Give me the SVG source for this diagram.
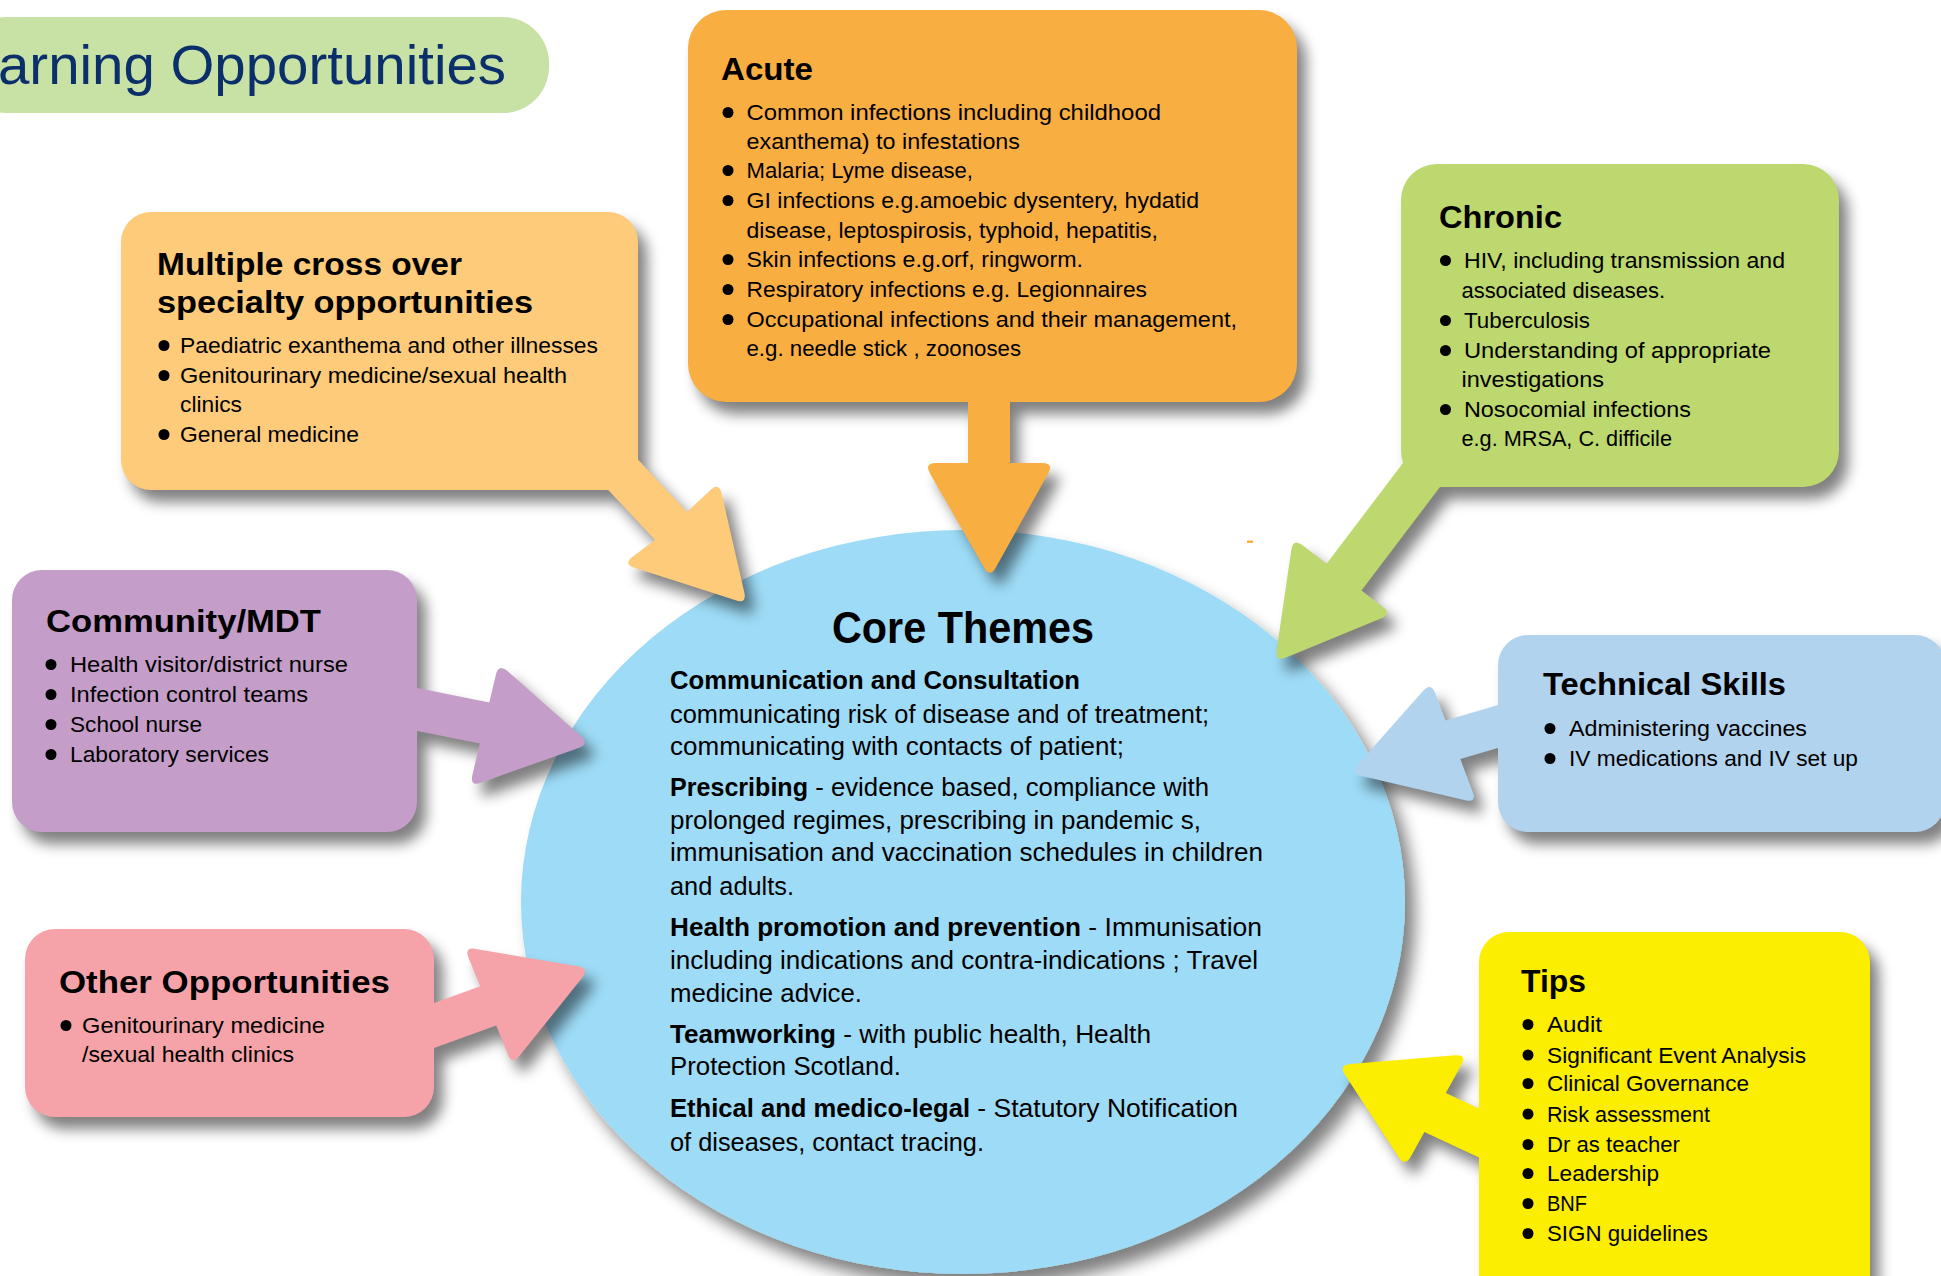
<svg xmlns="http://www.w3.org/2000/svg" width="1941" height="1276" viewBox="0 0 1941 1276">
  <defs>
    <style>
      text { font-family: "Liberation Sans", Arial, Helvetica, sans-serif; fill: #000; }
      .banner { font-size: 56px; fill: #0b2f6b; }
      .h { font-size: 32px; font-weight: bold; }
      .li { font-size: 22.5px; }
      .ch { font-size: 44px; font-weight: bold; }
      .cb { font-size: 25px; }
      .bd { font-weight: bold; }
      .dot { fill: #000; }
      .c-banner { fill: #c8e1a5; }
      .c-multi { fill: #fdcb7a; }
      .c-acute { fill: #f9ae42; }
      .c-chronic { fill: #bdd86e; }
      .c-tech { fill: #b1d3ee; }
      .c-tips { fill: #fbee00; }
      .c-comm { fill: #c49ec8; }
      .c-other { fill: #f5a3a9; }
      .c-core { fill: #9ddbf6; }
      .shade { fill: #000; }
    </style>

    <!-- soft drop shadow, shadow only -->
    <filter id="drop" filterUnits="userSpaceOnUse" x="0" y="0" width="1941" height="1276">
      <feGaussianBlur in="SourceAlpha" stdDeviation="7"/>
      <feOffset dx="9" dy="12"/>
      <feComponentTransfer><feFuncA type="linear" slope="0.5"/></feComponentTransfer>
    </filter>
    <!-- drop shadow merged under the shape itself -->
    <filter id="drop-under" filterUnits="userSpaceOnUse" x="0" y="0" width="1941" height="1276">
      <feGaussianBlur in="SourceAlpha" stdDeviation="8"/>
      <feOffset dx="10" dy="13"/>
      <feComponentTransfer result="sh"><feFuncA type="linear" slope="0.5"/></feComponentTransfer>
      <feMerge><feMergeNode in="sh"/><feMergeNode in="SourceGraphic"/></feMerge>
    </filter>

    <!-- callout boxes -->
    <rect id="box-multi" x="121" y="212" width="517" height="278" rx="30"/>
    <rect id="box-acute" x="688" y="10" width="609" height="392" rx="38"/>
    <rect id="box-chronic" x="1401" y="164" width="438" height="323" rx="36"/>
    <rect id="box-tech" x="1498" y="635" width="447" height="197" rx="30"/>
    <rect id="box-tips" x="1479" y="932" width="391" height="390" rx="30"/>
    <rect id="box-comm" x="12" y="570" width="405" height="262" rx="30"/>
    <rect id="box-other" x="25" y="929" width="409" height="188" rx="30"/>

    <!-- block arrows pointing at the core -->
    <path id="arr-multi" d="M616,436 L687,512 L710.3,490.2 Q719,482 721.7,493.7 L744.3,592.3 Q747,604 735.6,600.3 L634.4,567.7 Q623,564 632.6,556.8 L655,540 L554,432 Z"/>
    <path id="arr-acute" d="M968,380 L968,463 L936,463 Q924,463 930,473.4 L984,567.6 Q990,578 995.8,567.5 L1048.2,473.5 Q1054,463 1042,463 L1010,463 L1010,380 Z"/>
    <path id="arr-chronic" d="M1440.5,413.5 L1326.6,563.8 L1302.5,545.3 Q1293,538 1291.3,549.9 L1276.7,650.1 Q1275,662 1286.1,657.5 L1380.9,618.5 Q1392,614 1382.5,606.7 L1361.5,590.6 L1477.5,437.5 Z"/>
    <path id="arr-tech" d="M1530,695.6 L1445.6,720.5 L1435.2,693.2 Q1431,682 1423,691 L1358,764.4 Q1350,773.4 1361.7,776.1 L1465.3,800.3 Q1477,803 1472.7,791.8 L1460.3,759.1 L1530,738.6 Z"/>
    <path id="arr-tips" d="M1509,1122.5 L1445.9,1093 L1461.4,1064.8 Q1467.2,1054.3 1455.2,1055.3 L1350.5,1063.9 Q1338.5,1064.9 1345.1,1075 L1398.5,1156.9 Q1405.1,1167 1410.9,1156.5 L1424.4,1132 L1509,1171.5 Z"/>
    <path id="arr-comm" d="M390,682.6 L489.3,702.4 L495.8,674.9 Q498.5,663.2 507.5,671.1 L580.9,736 Q589.9,743.9 578.6,747.9 L481,782.7 Q469.7,786.7 472.4,775 L479.8,743.5 L390,725.6 Z"/>
    <path id="arr-other" d="M405,1013.5 L480.2,986.3 L468.6,958 Q464.1,946.9 475.9,948.9 L577.9,966.3 Q589.7,968.3 582.2,977.7 L519.8,1055.6 Q512.3,1065 507.8,1053.9 L496.2,1025.5 L405,1058.5 Z"/>
  </defs>

  <rect x="0" y="0" width="1941" height="1276" fill="#fff"/>

  <!-- page heading -->
  <g id="heading">
    <rect class="c-banner" x="-40" y="17" width="589" height="96" rx="46"/>
    <text class="banner" x="-2" y="84" textLength="508" lengthAdjust="spacingAndGlyphs">arning Opportunities</text>
  </g>

  <!-- central theme -->
  <g id="node-core">
    <ellipse class="c-core" cx="963" cy="902" rx="442" ry="372" filter="url(#drop-under)"/>
    <text class="ch" x="832" y="643" textLength="262" lengthAdjust="spacingAndGlyphs">Core Themes</text>
    <text class="cb" y="689"><tspan class="bd" x="670" textLength="410" lengthAdjust="spacingAndGlyphs">Communication and Consultation</tspan></text>
    <text class="cb" x="670" y="722.5" textLength="539" lengthAdjust="spacingAndGlyphs">communicating risk of disease and of treatment;</text>
    <text class="cb" x="670" y="755" textLength="454" lengthAdjust="spacingAndGlyphs">communicating with contacts of patient;</text>
    <text class="cb" y="796"><tspan class="bd" x="670" textLength="138" lengthAdjust="spacingAndGlyphs">Prescribing</tspan><tspan x="808" textLength="401" lengthAdjust="spacingAndGlyphs"> - evidence based, compliance with</tspan></text>
    <text class="cb" x="670" y="829" textLength="531" lengthAdjust="spacingAndGlyphs">prolonged regimes, prescribing in pandemic s,</text>
    <text class="cb" x="670" y="861" textLength="593" lengthAdjust="spacingAndGlyphs">immunisation and vaccination schedules in children</text>
    <text class="cb" x="670" y="895" textLength="124" lengthAdjust="spacingAndGlyphs">and adults.</text>
    <text class="cb" y="936"><tspan class="bd" x="670" textLength="411" lengthAdjust="spacingAndGlyphs">Health promotion and prevention</tspan><tspan x="1081" textLength="181" lengthAdjust="spacingAndGlyphs"> - Immunisation</tspan></text>
    <text class="cb" x="670" y="969" textLength="588" lengthAdjust="spacingAndGlyphs">including indications and contra-indications ; Travel</text>
    <text class="cb" x="670" y="1002" textLength="192" lengthAdjust="spacingAndGlyphs">medicine advice.</text>
    <text class="cb" y="1043"><tspan class="bd" x="670" textLength="166" lengthAdjust="spacingAndGlyphs">Teamworking</tspan><tspan x="836" textLength="315" lengthAdjust="spacingAndGlyphs"> - with public health, Health</tspan></text>
    <text class="cb" x="670" y="1075" textLength="231" lengthAdjust="spacingAndGlyphs">Protection Scotland.</text>
    <text class="cb" y="1117"><tspan class="bd" x="670" textLength="300" lengthAdjust="spacingAndGlyphs">Ethical and medico-legal</tspan><tspan x="970" textLength="268" lengthAdjust="spacingAndGlyphs"> - Statutory Notification</tspan></text>
    <text class="cb" x="670" y="1150.5" textLength="314" lengthAdjust="spacingAndGlyphs">of diseases, contact tracing.</text>
  </g>

  <!-- shadows of the callouts and their arrows -->
  <g id="shadows" class="shade" filter="url(#drop)">
    <use href="#box-multi"/><use href="#arr-multi"/>
    <use href="#box-acute"/><use href="#arr-acute"/>
    <use href="#box-chronic"/><use href="#arr-chronic"/>
    <use href="#box-tech"/><use href="#arr-tech"/>
    <use href="#box-tips"/><use href="#arr-tips"/>
    <use href="#box-comm"/><use href="#arr-comm"/>
    <use href="#box-other"/><use href="#arr-other"/>
  </g>

  <!-- connectors -->
  <g id="connectors">
    <use href="#arr-multi" class="c-multi"/>
    <use href="#arr-acute" class="c-acute"/>
    <use href="#arr-chronic" class="c-chronic"/>
    <use href="#arr-tech" class="c-tech"/>
    <use href="#arr-tips" class="c-tips"/>
    <use href="#arr-comm" class="c-comm"/>
    <use href="#arr-other" class="c-other"/>
  </g>

  <rect x="1247" y="540.5" width="6" height="2.5" fill="#f9ae42"/>

  <g id="node-multi">
    <use href="#box-multi" class="c-multi"/>
    <text class="h" x="157" y="275" textLength="305" lengthAdjust="spacingAndGlyphs">Multiple cross over</text>
    <text class="h" x="157" y="313" textLength="376" lengthAdjust="spacingAndGlyphs">specialty opportunities</text>
    <circle class="dot" cx="164" cy="345.5" r="5.5"/>
    <circle class="dot" cx="164" cy="375.5" r="5.5"/>
    <circle class="dot" cx="164" cy="434.5" r="5.5"/>
    <text class="li" x="180" y="353" textLength="418" lengthAdjust="spacingAndGlyphs">Paediatric exanthema and other illnesses</text>
    <text class="li" x="180" y="383" textLength="387" lengthAdjust="spacingAndGlyphs">Genitourinary medicine/sexual health</text>
    <text class="li" x="180" y="412" textLength="62" lengthAdjust="spacingAndGlyphs">clinics</text>
    <text class="li" x="180" y="442" textLength="179" lengthAdjust="spacingAndGlyphs">General medicine</text>
  </g>

  <g id="node-acute">
    <use href="#box-acute" class="c-acute"/>
    <text class="h" x="721" y="80" textLength="92" lengthAdjust="spacingAndGlyphs">Acute</text>
    <circle class="dot" cx="728" cy="112.5" r="5.5"/>
    <circle class="dot" cx="728" cy="170.5" r="5.5"/>
    <circle class="dot" cx="728" cy="200.5" r="5.5"/>
    <circle class="dot" cx="728" cy="259.5" r="5.5"/>
    <circle class="dot" cx="728" cy="289.5" r="5.5"/>
    <circle class="dot" cx="728" cy="319.5" r="5.5"/>
    <text class="li" x="746.5" y="120" textLength="414.5" lengthAdjust="spacingAndGlyphs">Common infections including childhood</text>
    <text class="li" x="746.5" y="149" textLength="273.5" lengthAdjust="spacingAndGlyphs">exanthema) to infestations</text>
    <text class="li" x="746.5" y="178" textLength="226.5" lengthAdjust="spacingAndGlyphs">Malaria; Lyme disease,</text>
    <text class="li" x="746.5" y="208" textLength="452.5" lengthAdjust="spacingAndGlyphs">GI infections e.g.amoebic dysentery, hydatid</text>
    <text class="li" x="746.5" y="238" textLength="411.5" lengthAdjust="spacingAndGlyphs">disease, leptospirosis, typhoid, hepatitis,</text>
    <text class="li" x="746.5" y="267" textLength="336.5" lengthAdjust="spacingAndGlyphs">Skin infections e.g.orf, ringworm.</text>
    <text class="li" x="746.5" y="297" textLength="400.5" lengthAdjust="spacingAndGlyphs">Respiratory infections e.g. Legionnaires</text>
    <text class="li" x="746.5" y="327" textLength="490.5" lengthAdjust="spacingAndGlyphs">Occupational infections and their management,</text>
    <text class="li" x="746.5" y="356" textLength="274.5" lengthAdjust="spacingAndGlyphs">e.g. needle stick , zoonoses</text>
  </g>

  <g id="node-chronic">
    <use href="#box-chronic" class="c-chronic"/>
    <text class="h" x="1439" y="228" textLength="123" lengthAdjust="spacingAndGlyphs">Chronic</text>
    <circle class="dot" cx="1445.5" cy="260.5" r="5.5"/>
    <circle class="dot" cx="1445.5" cy="320.5" r="5.5"/>
    <circle class="dot" cx="1445.5" cy="350.5" r="5.5"/>
    <circle class="dot" cx="1445.5" cy="409.5" r="5.5"/>
    <text class="li" x="1464" y="268" textLength="321" lengthAdjust="spacingAndGlyphs">HIV, including transmission and</text>
    <text class="li" x="1461.5" y="298" textLength="203.5" lengthAdjust="spacingAndGlyphs">associated diseases.</text>
    <text class="li" x="1464" y="328" textLength="126" lengthAdjust="spacingAndGlyphs">Tuberculosis</text>
    <text class="li" x="1464" y="358" textLength="307" lengthAdjust="spacingAndGlyphs">Understanding of appropriate</text>
    <text class="li" x="1461.5" y="387" textLength="142.5" lengthAdjust="spacingAndGlyphs">investigations</text>
    <text class="li" x="1464" y="417" textLength="227" lengthAdjust="spacingAndGlyphs">Nosocomial infections</text>
    <text class="li" x="1461.5" y="446" textLength="210.5" lengthAdjust="spacingAndGlyphs">e.g. MRSA, C. difficile</text>
  </g>

  <g id="node-tech">
    <use href="#box-tech" class="c-tech"/>
    <text class="h" x="1543" y="695" textLength="243" lengthAdjust="spacingAndGlyphs">Technical Skills</text>
    <circle class="dot" cx="1550" cy="728.5" r="5.5"/>
    <circle class="dot" cx="1550" cy="758.5" r="5.5"/>
    <text class="li" x="1569" y="736" textLength="238" lengthAdjust="spacingAndGlyphs">Administering vaccines</text>
    <text class="li" x="1569" y="766" textLength="289" lengthAdjust="spacingAndGlyphs">IV medications and IV set up</text>
  </g>

  <g id="node-tips">
    <use href="#box-tips" class="c-tips"/>
    <text class="h" x="1521" y="992" textLength="65" lengthAdjust="spacingAndGlyphs">Tips</text>
    <circle class="dot" cx="1528" cy="1024.5" r="5.5"/>
    <circle class="dot" cx="1528" cy="1055" r="5.5"/>
    <circle class="dot" cx="1528" cy="1083.5" r="5.5"/>
    <circle class="dot" cx="1528" cy="1114" r="5.5"/>
    <circle class="dot" cx="1528" cy="1144.5" r="5.5"/>
    <circle class="dot" cx="1528" cy="1173.5" r="5.5"/>
    <circle class="dot" cx="1528" cy="1203.5" r="5.5"/>
    <circle class="dot" cx="1528" cy="1233.5" r="5.5"/>
    <text class="li" x="1547" y="1032" textLength="55" lengthAdjust="spacingAndGlyphs">Audit</text>
    <text class="li" x="1547" y="1062.5" textLength="259" lengthAdjust="spacingAndGlyphs">Significant Event Analysis</text>
    <text class="li" x="1547" y="1091" textLength="202" lengthAdjust="spacingAndGlyphs">Clinical Governance</text>
    <text class="li" x="1547" y="1121.5" textLength="163" lengthAdjust="spacingAndGlyphs">Risk assessment</text>
    <text class="li" x="1547" y="1152" textLength="133" lengthAdjust="spacingAndGlyphs">Dr as teacher</text>
    <text class="li" x="1547" y="1181" textLength="112" lengthAdjust="spacingAndGlyphs">Leadership</text>
    <text class="li" x="1547" y="1211" textLength="40" lengthAdjust="spacingAndGlyphs">BNF</text>
    <text class="li" x="1547" y="1241" textLength="161" lengthAdjust="spacingAndGlyphs">SIGN guidelines</text>
  </g>

  <g id="node-comm">
    <use href="#box-comm" class="c-comm"/>
    <text class="h" x="46" y="632" textLength="275" lengthAdjust="spacingAndGlyphs">Community/MDT</text>
    <circle class="dot" cx="51" cy="664.5" r="5.5"/>
    <circle class="dot" cx="51" cy="694.5" r="5.5"/>
    <circle class="dot" cx="51" cy="724.5" r="5.5"/>
    <circle class="dot" cx="51" cy="754.5" r="5.5"/>
    <text class="li" x="70" y="672" textLength="278" lengthAdjust="spacingAndGlyphs">Health visitor/district nurse</text>
    <text class="li" x="70" y="702" textLength="238" lengthAdjust="spacingAndGlyphs">Infection control teams</text>
    <text class="li" x="70" y="732" textLength="132" lengthAdjust="spacingAndGlyphs">School nurse</text>
    <text class="li" x="70" y="762" textLength="199" lengthAdjust="spacingAndGlyphs">Laboratory services</text>
  </g>

  <g id="node-other">
    <use href="#box-other" class="c-other"/>
    <text class="h" x="59" y="993" textLength="331" lengthAdjust="spacingAndGlyphs">Other Opportunities</text>
    <circle class="dot" cx="66" cy="1025.5" r="5.5"/>
    <text class="li" x="82" y="1033" textLength="243" lengthAdjust="spacingAndGlyphs">Genitourinary medicine</text>
    <text class="li" x="82" y="1062" textLength="212" lengthAdjust="spacingAndGlyphs">/sexual health clinics</text>
  </g>
</svg>
